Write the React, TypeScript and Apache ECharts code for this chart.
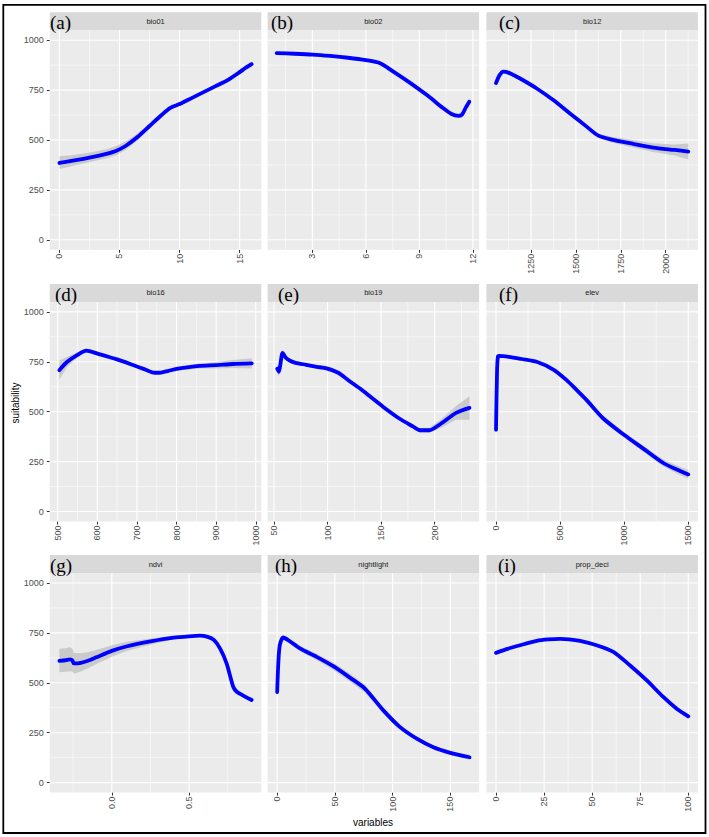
import React, { useEffect, useRef } from "react";
import * as echarts from "echarts";

// ---------- shared y scale ----------
const yTicks = [0, 250, 500, 750, 1000];
const yTickLabels = ["0", "250", "500", "750", "1000"];
const yMinor = [125, 375, 625, 875];
const yRange = [-50, 1050];

const panelNames = ["bio01", "bio02", "bio12", "bio16", "bio19", "elev", "ndvi", "nightlight", "prop_deci"];
const panelTags = ["(a)", "(b)", "(c)", "(d)", "(e)", "(f)", "(g)", "(h)", "(i)"];

// ---------- (a) bio01 ----------
const bio01X = [0, 1, 2, 3, 4, 4.7, 5.5, 6.5, 7.5, 8.5, 9.2, 10, 11, 12, 13, 14, 15, 15.5, 16];
const bio01Fit = [385, 395, 406, 418, 432, 445, 470, 515, 570, 625, 660, 680, 710, 740, 770, 800, 840, 862, 880];
const bio01Lower = [355, 368, 382, 396, 410, 422, 450, 498, 557, 615, 652, 672, 702, 732, 760, 790, 828, 848, 864];
const bio01Upper = [418, 424, 432, 442, 455, 470, 492, 532, 583, 635, 668, 688, 718, 748, 780, 810, 852, 876, 896];
const bio01Ticks = [0, 5, 10, 15];
const bio01TickLabels = ["0", "5", "10", "15"];
const bio01Minor = [2.5, 7.5, 12.5];
const bio01Range = [-0.8, 16.8];

// ---------- (b) bio02 ----------
const bio02X = [1.0, 2, 3, 4, 5, 6, 6.8, 7.5, 8.5, 9.5, 10.3, 10.8, 11.2, 11.4, 11.6, 11.8];
const bio02Fit = [935, 932, 928, 921, 912, 900, 885, 845, 785, 720, 662, 630, 621, 628, 662, 692];
const bio02Lower = [927, 926, 923, 916, 907, 895, 880, 840, 780, 714, 655, 622, 611, 612, 645, 672];
const bio02Upper = [943, 938, 933, 926, 917, 905, 890, 850, 790, 726, 669, 638, 631, 644, 679, 712];
const bio02Ticks = [3, 6, 9, 12];
const bio02TickLabels = ["3", "6", "9", "12"];
const bio02Minor = [1.5, 4.5, 7.5, 10.5];
const bio02Range = [0.49, 12.35];

// ---------- (c) bio12 ----------
const bio12X = [1055, 1075, 1096, 1130, 1189, 1282, 1374, 1467, 1560, 1625, 1700, 1800, 1931, 2050, 2126];
const bio12Fit = [785, 825, 842, 835, 808, 758, 700, 633, 567, 522, 502, 484, 462, 450, 442];
const bio12Lower = [770, 815, 834, 828, 801, 752, 694, 627, 560, 512, 488, 466, 440, 422, 402];
const bio12Upper = [800, 835, 850, 842, 815, 764, 706, 639, 574, 532, 516, 502, 484, 478, 482];
const bio12Ticks = [1250, 1500, 1750, 2000];
const bio12TickLabels = ["1250", "1500", "1750", "2000"];
const bio12Minor = [1125, 1375, 1625, 1875, 2125];
const bio12Range = [1001.5, 2179.5];

// ---------- (d) bio16 ----------
const bio16X = [504, 524, 550, 572, 602, 650, 690, 720, 745, 758, 780, 800, 858, 900, 942, 990];
const bio16Fit = [708, 750, 785, 806, 790, 762, 734, 712, 695, 695, 705, 714, 729, 733, 739, 742];
const bio16Lower = [660, 725, 772, 796, 782, 756, 729, 707, 689, 689, 699, 707, 716, 717, 719, 716];
const bio16Upper = [756, 775, 798, 816, 798, 768, 739, 717, 701, 701, 711, 721, 742, 749, 759, 768];
const bio16Ticks = [500, 600, 700, 800, 900, 1000];
const bio16TickLabels = ["500", "600", "700", "800", "900", "1000"];
const bio16Minor = [550, 650, 750, 850, 950];
const bio16Range = [480, 1014];

// ---------- (e) bio19 ----------
const bio19X = [53, 54.5, 56, 58, 61, 65, 70, 80, 90, 99, 110, 120, 130, 140, 152, 167, 180, 186, 195, 206, 220, 232.5];
const bio19Fit = [715, 700, 740, 795, 770, 755, 745, 735, 725, 717, 695, 655, 617, 575, 524, 466, 425, 407, 407, 441, 494, 519];
const bio19Lower = [690, 678, 722, 780, 758, 745, 737, 727, 717, 709, 687, 647, 609, 567, 516, 458, 415, 396, 394, 420, 460, 460];
const bio19Upper = [740, 722, 758, 810, 782, 765, 753, 743, 733, 725, 703, 663, 625, 583, 532, 474, 435, 418, 420, 462, 528, 578];
const bio19Ticks = [50, 100, 150, 200];
const bio19TickLabels = ["50", "100", "150", "200"];
const bio19Minor = [75, 125, 175, 225];
const bio19Range = [44, 241.5];

// ---------- (f) elev ----------
const elevX = [0, 8, 15, 25, 100, 200, 317, 450, 551, 630, 707, 837, 993, 1149, 1305, 1420, 1500];
const elevFit = [410, 700, 778, 780, 775, 764, 750, 710, 658, 608, 558, 466, 387, 315, 243, 208, 186];
const elevLower = [400, 690, 770, 774, 770, 759, 745, 705, 652, 600, 548, 454, 373, 300, 226, 188, 164];
const elevUpper = [420, 710, 786, 786, 780, 769, 755, 715, 664, 616, 568, 478, 401, 330, 260, 228, 208];
const elevTicks = [0, 500, 1000, 1500];
const elevTickLabels = ["0", "500", "1000", "1500"];
const elevMinor = [250, 750, 1250];
const elevRange = [-75, 1575];

// ---------- (g) ndvi ----------
const ndviX = [-0.339, -0.3, -0.27, -0.255, -0.245, -0.2, -0.15, -0.1, 0.0, 0.1, 0.25, 0.4, 0.5, 0.57, 0.62, 0.66, 0.7, 0.743, 0.786, 0.81, 0.85, 0.905];
const ndviFit = [610, 613, 617, 612, 597, 600, 612, 628, 660, 683, 707, 726, 733, 736, 730, 715, 672, 596, 479, 454, 436, 414];
const ndviLower = [553, 555, 558, 556, 545, 556, 574, 594, 630, 660, 690, 718, 728, 731, 725, 709, 665, 588, 470, 445, 426, 402];
const ndviUpper = [670, 673, 678, 672, 650, 648, 654, 664, 688, 706, 722, 734, 738, 741, 735, 721, 679, 604, 488, 463, 446, 426];
const ndviTicks = [0, 0.5];
const ndviTickLabels = ["0.0", "0.5"];
const ndviMinor = [-0.25, 0.25, 0.75];
const ndviRange = [-0.401, 0.967];

// ---------- (h) nightlight ----------
const nightX = [0, 1, 2.3, 5.2, 10, 19.7, 34.2, 48.6, 63, 76, 92, 106.5, 121, 135.4, 150, 166.7];
const nightFit = [454, 600, 690, 727, 712, 672, 630, 583, 526, 471, 362, 278, 220, 177, 149, 127];
const nightLower = [440, 585, 678, 717, 700, 658, 614, 564, 506, 452, 348, 266, 210, 168, 140, 115];
const nightUpper = [468, 615, 702, 737, 724, 686, 646, 602, 546, 490, 376, 290, 230, 186, 158, 139];
const nightTicks = [0, 50, 100, 150];
const nightTickLabels = ["0", "50", "100", "150"];
const nightMinor = [25, 75, 125];
const nightRange = [-8.3, 175];

// ---------- (i) prop_deci ----------
const decX = [0, 6, 12.5, 21.2, 27, 33.3, 38, 43.7, 52.3, 61, 69.6, 78.3, 87, 94, 100];
const decFit = [650, 670, 688, 710, 717, 720, 718, 710, 688, 655, 588, 513, 429, 370, 332];
const decLower = [642, 663, 682, 705, 712, 715, 713, 705, 683, 650, 582, 506, 421, 361, 320];
const decUpper = [658, 677, 694, 715, 722, 725, 723, 715, 693, 660, 594, 520, 437, 379, 344];
const decTicks = [0, 25, 50, 75, 100];
const decTickLabels = ["0", "25", "50", "75", "100"];
const decMinor = [12.5, 37.5, 62.5, 87.5];
const decRange = [-5, 105];

const panels = [
  { x: bio01X, fit: bio01Fit, lo: bio01Lower, hi: bio01Upper, ticks: bio01Ticks, labels: bio01TickLabels, minor: bio01Minor, range: bio01Range },
  { x: bio02X, fit: bio02Fit, lo: bio02Lower, hi: bio02Upper, ticks: bio02Ticks, labels: bio02TickLabels, minor: bio02Minor, range: bio02Range },
  { x: bio12X, fit: bio12Fit, lo: bio12Lower, hi: bio12Upper, ticks: bio12Ticks, labels: bio12TickLabels, minor: bio12Minor, range: bio12Range },
  { x: bio16X, fit: bio16Fit, lo: bio16Lower, hi: bio16Upper, ticks: bio16Ticks, labels: bio16TickLabels, minor: bio16Minor, range: bio16Range },
  { x: bio19X, fit: bio19Fit, lo: bio19Lower, hi: bio19Upper, ticks: bio19Ticks, labels: bio19TickLabels, minor: bio19Minor, range: bio19Range },
  { x: elevX, fit: elevFit, lo: elevLower, hi: elevUpper, ticks: elevTicks, labels: elevTickLabels, minor: elevMinor, range: elevRange },
  { x: ndviX, fit: ndviFit, lo: ndviLower, hi: ndviUpper, ticks: ndviTicks, labels: ndviTickLabels, minor: ndviMinor, range: ndviRange },
  { x: nightX, fit: nightFit, lo: nightLower, hi: nightUpper, ticks: nightTicks, labels: nightTickLabels, minor: nightMinor, range: nightRange },
  { x: decX, fit: decFit, lo: decLower, hi: decUpper, ticks: decTicks, labels: decTickLabels, minor: decMinor, range: decRange },
];

// ---------- layout ----------
const colLefts = [49.8, 267.6, 486.4];
const panelW = 211.5;
const rowTops = [30.2, 301.9, 573.0];
const panelH = 219.6;
const stripH = 18;
const tagX = [50, 271, 499, 55, 278, 499, 50, 275, 498];
const SANS = "'Liberation Sans', Arial, sans-serif";
const SERIF = "'Liberation Serif', 'Times New Roman', serif";

function labelFor(v: number, ticks: number[], labels: string[]) {
  let best = 0;
  for (let i = 1; i < ticks.length; i++) {
    if (Math.abs(ticks[i] - v) < Math.abs(ticks[best] - v)) best = i;
  }
  return labels[best];
}

export default function App() {
  const ref = useRef<HTMLDivElement>(null);
  useEffect(() => {
    if (!ref.current) return;
    const chart = echarts.init(ref.current, undefined, { renderer: "svg", width: 709, height: 837 });
    const grids: any[] = [];
    const xAxes: any[] = [];
    const yAxes: any[] = [];
    const series: any[] = [];
    const graphics: any[] = [];

    panels.forEach((p, i) => {
      const col = i % 3;
      const row = Math.floor(i / 3);
      const left = colLefts[col];
      const top = rowTops[row];
      grids.push({
        left, top, width: panelW, height: panelH,
        show: true, backgroundColor: "#EBEBEB", borderWidth: 0,
        containLabel: false,
      });
      xAxes.push({
        type: "value", gridIndex: i, min: p.range[0], max: p.range[1], position: "bottom",
        axisLine: { show: false, onZero: false },
        axisTick: { show: true, length: 3, lineStyle: { color: "#333333", width: 1 }, customValues: p.ticks },
        axisLabel: {
          show: true, customValues: p.ticks, rotate: 90, margin: 4,
          fontSize: 9, color: "#4D4D4D", fontFamily: SANS,
          formatter: (v: number) => labelFor(v, p.ticks, p.labels),
        },
        splitLine: { show: false },
        minorSplitLine: { show: false },
      });
      yAxes.push({
        type: "value", gridIndex: i, min: yRange[0], max: yRange[1], position: "left",
        axisLine: { show: false, onZero: false },
        axisTick: { show: col === 0, length: 3, lineStyle: { color: "#333333", width: 1 }, customValues: yTicks },
        axisLabel: {
          show: col === 0, customValues: yTicks, margin: 6,
          fontSize: 9, color: "#4D4D4D", fontFamily: SANS,
          formatter: (v: number) => labelFor(v, yTicks, yTickLabels),
        },
        splitLine: { show: false },
        minorSplitLine: { show: false },
      });
      // grid lines
      series.push({
        type: "custom", xAxisIndex: i, yAxisIndex: i, silent: true, z: 1,
        data: [[p.range[0], yRange[0]]],
        renderItem: (params: any, api: any) => {
          const cs = params.coordSys;
          const children: any[] = [];
          const vline = (v: number, w: number) => {
            const px = api.coord([v, 0])[0];
            children.push({ type: "line", shape: { x1: px, y1: cs.y, x2: px, y2: cs.y + cs.height }, style: { stroke: "#FFFFFF", lineWidth: w } });
          };
          const hline = (v: number, w: number) => {
            const py = api.coord([p.range[0], v])[1];
            children.push({ type: "line", shape: { x1: cs.x, y1: py, x2: cs.x + cs.width, y2: py }, style: { stroke: "#FFFFFF", lineWidth: w } });
          };
          p.minor.forEach((v) => vline(v, 0.55));
          yMinor.forEach((v) => hline(v, 0.55));
          p.ticks.forEach((v) => vline(v, 1.1));
          yTicks.forEach((v) => hline(v, 1.1));
          return { type: "group", children };
        },
      });
      // confidence ribbon
      series.push({
        type: "custom", xAxisIndex: i, yAxisIndex: i, silent: true, z: 2,
        data: [[p.x[0], p.fit[0]]],
        renderItem: (params: any, api: any) => {
          const pts: number[][] = [];
          for (let k = 0; k < p.x.length; k++) pts.push(api.coord([p.x[k], p.hi[k]]));
          for (let k = p.x.length - 1; k >= 0; k--) pts.push(api.coord([p.x[k], p.lo[k]]));
          return { type: "polygon", shape: { points: pts }, style: { fill: "#999999", opacity: 0.4 } };
        },
      });
      // fitted line
      series.push({
        type: "line", xAxisIndex: i, yAxisIndex: i, z: 4,
        data: p.x.map((v, k) => [v, p.fit[k]]),
        showSymbol: false, symbol: "none", smooth: 0.25, silent: true,
        lineStyle: { color: "#0000FF", width: 3.8, cap: "round", join: "round" },
      });
      // strip
      graphics.push({
        type: "rect", shape: { x: left, y: top - stripH, width: panelW, height: stripH },
        style: { fill: "#D9D9D9" }, silent: true,
      });
      graphics.push({
        type: "text", x: left + panelW / 2, y: top - stripH / 2,
        style: { text: panelNames[i], fontSize: 7.5, fontFamily: SANS, fill: "#1A1A1A", align: "center", verticalAlign: "middle" },
        silent: true,
      });
      graphics.push({
        type: "text", x: tagX[i], y: top - stripH / 2 + 1.5,
        style: { text: panelTags[i], fontSize: 19, fontFamily: SERIF, fill: "#000000", align: "left", verticalAlign: "middle" },
        silent: true,
      });
    });

    graphics.push({
      type: "text", x: 15, y: 403, rotation: Math.PI / 2,
      style: { text: "suitability", fontSize: 10, fontFamily: SANS, fill: "#000000", align: "center", verticalAlign: "middle" },
      silent: true,
    });
    graphics.push({
      type: "text", x: 373, y: 822,
      style: { text: "variables", fontSize: 10, fontFamily: SANS, fill: "#000000", align: "center", verticalAlign: "middle" },
      silent: true,
    });
    graphics.push({
      type: "rect", shape: { x: 3.3, y: 4.8, width: 702.2, height: 828.2 },
      style: { fill: "none", stroke: "#000000", lineWidth: 1.8 }, silent: true,
    });

    chart.setOption({
      animation: false,
      backgroundColor: "#FFFFFF",
      grid: grids,
      xAxis: xAxes,
      yAxis: yAxes,
      series,
      graphic: { elements: graphics },
    });
    return () => chart.dispose();
  }, []);
  return (
    <div
      ref={ref}
      style={{ position: "fixed", left: 0, top: 0, width: 709, height: 837, background: "#FFFFFF" }}
    />
  );
}
